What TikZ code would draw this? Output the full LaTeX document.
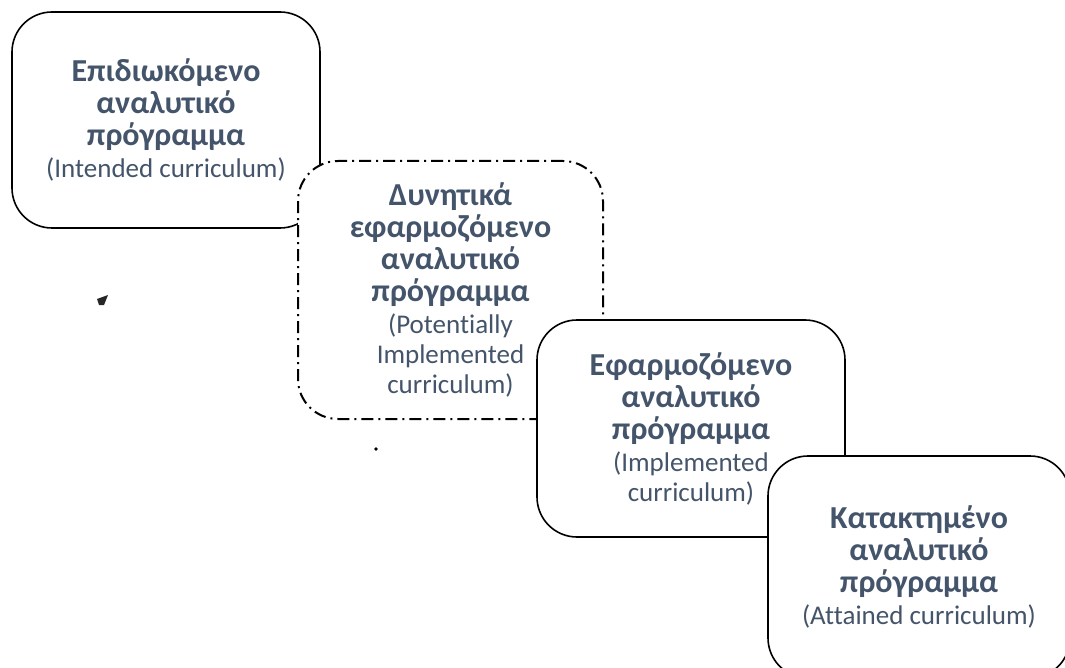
\documentclass[tikz,border=0pt]{standalone}
\usepackage{fontspec}
\setmainfont{Carlito}[Ligatures=NoCommon]
\definecolor{txt}{HTML}{44546A}
\tikzset{
  box/.style={draw=black, fill=white, line width=1.6pt, rounded corners=40pt,
    inner sep=0pt, align=center, text=txt, font=\fontsize{32}{32}\selectfont\bfseries},
  dashbox/.style={box, line width=2pt, dash pattern=on 12pt off 5pt on 2pt off 5pt}
}
\newcommand{\subtxt}[1]{{\fontsize{27}{30}\selectfont\mdseries #1}}
\begin{document}
\begin{tikzpicture}[x=1pt,y=-1pt]
\useasboundingbox (0,0) rectangle (1065,668);
\node[box, minimum width=308pt, minimum height=216pt] (b1) at (166,120)
  {Επιδιωκόμενο\\ αναλυτικό\\ πρόγραμμα\\ \subtxt{(Intended curriculum)}};
\node[dashbox, minimum width=305pt, minimum height=258pt] (b2) at (450.5,290)
  {Δυνητικά\\ εφαρμοζόμενο\\ αναλυτικό\\ πρόγραμμα\\ \subtxt{(Potentially}\\[-2pt] \subtxt{Implemented}\\[-2pt] \subtxt{curriculum)}};
\node[box, minimum width=308pt, minimum height=217pt] (b3) at (691,428.5)
  {Εφαρμοζόμενο\\ αναλυτικό\\ πρόγραμμα\\ \subtxt{(Implemented}\\[-2pt] \subtxt{curriculum)}};
\node[box, minimum width=302pt, minimum height=222pt] (b4) at (919,567)
  {Κατακτημένο\\ αναλυτικό\\ πρόγραμμα\\ \subtxt{(Attained curriculum)}};
\fill[black!85] (108,295) -- (97,299) -- (99,305) -- (104,305) -- cycle;
\fill[black] (376,449) circle (1.8pt);
\end{tikzpicture}
\end{document}
